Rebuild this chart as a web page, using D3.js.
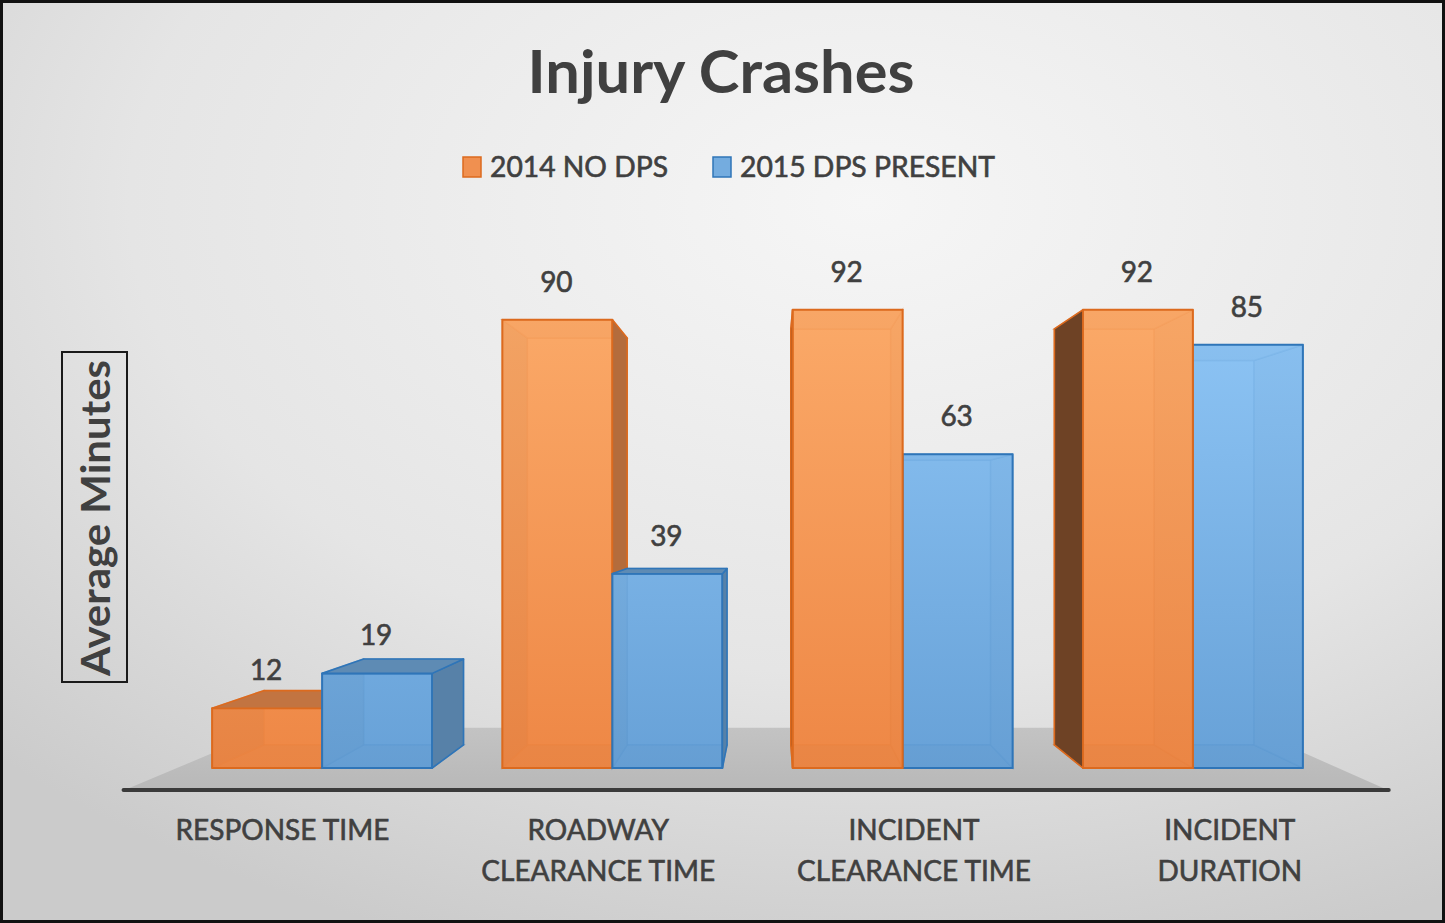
<!DOCTYPE html>
<html><head><meta charset="utf-8">
<script src="https://cdn.jsdelivr.net/npm/d3@7"></script>
<style>html,body{margin:0;padding:0;background:#fff;overflow:hidden}</style>
</head><body>
<svg id="chart" width="1445" height="923"></svg>
<script>
// ---------- data ----------
const categories = ["RESPONSE TIME", "ROADWAY CLEARANCE TIME", "INCIDENT CLEARANCE TIME", "INCIDENT DURATION"];
const categoryLines = [["RESPONSE TIME"], ["ROADWAY", "CLEARANCE TIME"], ["INCIDENT", "CLEARANCE TIME"], ["INCIDENT", "DURATION"]];
const seriesNames = ["2014 NO DPS", "2015 DPS PRESENT"];
const values2014 = [12, 90, 92, 92];
const values2015 = [19, 39, 63, 85];
const yDomain = [0, 100];
const titleText = "Injury Crashes";
const yAxisTitle = "Average Minutes";

// ---------- layout ----------
const W = 1445, H = 923;
const baseY = 768, topY = 270;             // front plane value range
const plotX0 = 177, plotX1 = 1338;          // front plane category range
const VP = {x: 773, y: 517};                // perspective vanishing point
const kBack = 0.908, kFloorFront = 1.088, kFloorBack = 0.84;
const font = "Lato, 'Open Sans', sans-serif";
const textColor = "#404040";

const svg = d3.select("#chart");
const defs = svg.append("defs");

// background
const bg = defs.append("radialGradient").attr("id", "bg").attr("cx", "60%").attr("cy", "22%").attr("r", "85%");
bg.append("stop").attr("offset", "0").attr("stop-color", "#f6f6f6");
bg.append("stop").attr("offset", "0.6").attr("stop-color", "#e5e5e5");
bg.append("stop").attr("offset", "1").attr("stop-color", "#cbcbcb");
svg.append("rect").attr("width", W).attr("height", H).attr("fill", "url(#bg)");

// series styles
const palette = [
  {id: "gOr", lo: "#ee8745", hi: "#fbaa69", base: "#f09050", edge: "#dc6a1e"},
  {id: "gBl", lo: "#67a1d7", hi: "#8fc6f6", base: "#74acdf", edge: "#2f75b8"}
];
palette.forEach(p => {
  const lg = defs.append("linearGradient").attr("id", p.id).attr("gradientUnits", "userSpaceOnUse")
    .attr("x1", 0).attr("y1", baseY).attr("x2", 0).attr("y2", 300);
  lg.append("stop").attr("offset", "0").attr("stop-color", p.lo);
  lg.append("stop").attr("offset", "1").attr("stop-color", p.hi);
});

// scales
const x = d3.scaleBand().domain(categories).range([plotX0, plotX1]).paddingInner(0.242).paddingOuter(0.121);
const xs = d3.scaleBand().domain(seriesNames).range([0, x.bandwidth()]);
const y = d3.scaleLinear().domain(yDomain).range([baseY, topY]);

const P = (px, py, f) => [VP.x + (px - VP.x) * f, VP.y + (py - VP.y) * f];
const line = d3.line();
const poly = pts => line(pts) + "Z";

// floor
const floorPts = [P(plotX0, baseY, kFloorFront), P(plotX1, baseY, kFloorFront), P(plotX1, baseY, kFloorBack), P(plotX0, baseY, kFloorBack)];
const fg = defs.append("linearGradient").attr("id", "floorG").attr("x1", 0).attr("y1", 0).attr("x2", 0).attr("y2", 1);
fg.append("stop").attr("offset", 0).attr("stop-color", "#c3c3c3");
fg.append("stop").attr("offset", 1).attr("stop-color", "#b8b8b8");
svg.append("path").attr("d", poly(floorPts)).attr("fill", "url(#floorG)");
svg.append("line").attr("x1", floorPts[0][0] - 1).attr("x2", floorPts[1][0] + 1)
  .attr("y1", floorPts[0][1]).attr("y2", floorPts[0][1])
  .attr("stroke", "#3a3a3a").attr("stroke-width", 4).attr("stroke-linecap", "round");

// bars
const barData = [];
categories.forEach((c, i) => {
  [values2014[i], values2015[i]].forEach((v, s) => {
    const x0 = x(c) + xs(seriesNames[s]);
    barData.push({c, s, v, x0, x1: x0 + xs.bandwidth()});
  });
});
barData.sort((a, b) => Math.abs((b.x0 + b.x1) / 2 - VP.x) - Math.abs((a.x0 + a.x1) / 2 - VP.x));

const gBars = svg.append("g");
barData.forEach(d => {
  const p = palette[d.s];
  const yT = y(d.v), yB = y(0);
  const ftl = [d.x0, yT], ftr = [d.x1, yT], fbr = [d.x1, yB], fbl = [d.x0, yB];
  const btl = P(d.x0, yT, kBack), btr = P(d.x1, yT, kBack), bbr = P(d.x1, yB, kBack), bbl = P(d.x0, yB, kBack);
  const faces = {
    back: [btl, btr, bbr, bbl],
    left: [ftl, btl, bbl, fbl],
    right: [ftr, btr, bbr, fbr],
    top: [ftl, ftr, btr, btl],
    bottom: [fbl, fbr, bbr, bbl]
  };
  const outward = {
    left: btl[0] < d.x0, right: btr[0] > d.x1, top: btl[1] < yT, bottom: bbl[1] > yB
  };
  const shade = {left: 2.2, right: 0.8, top: 0.6, bottom: 1.2};
  const g = gBars.append("g");
  g.append("path").attr("d", poly(faces.back)).attr("fill", `url(#${p.id})`)
    .attr("stroke", p.edge).attr("stroke-opacity", 0.45).attr("stroke-width", 1.5);
  ["bottom", "left", "right", "top"].forEach(k => {
    if (outward[k]) return;
    g.append("path").attr("d", poly(faces[k])).attr("fill", `url(#${p.id})`);
    g.append("path").attr("d", poly(faces[k])).attr("fill", d3.color(p.base).darker(shade[k]).toString())
      .attr("fill-opacity", 0.25).attr("stroke", p.edge).attr("stroke-opacity", 0.45).attr("stroke-width", 1.5);
  });
  g.append("path").attr("d", poly([ftl, ftr, fbr, fbl])).attr("fill", `url(#${p.id})`).attr("fill-opacity", 0.78)
    .attr("stroke", p.edge).attr("stroke-width", 2).attr("stroke-linejoin", "round");
  ["left", "right", "top"].forEach(k => {
    if (!outward[k]) return;
    g.append("path").attr("d", poly(faces[k])).attr("fill", d3.color(p.base).darker(shade[k]).toString())
      .attr("stroke", p.edge).attr("stroke-width", 1.6).attr("stroke-linejoin", "round");
  });
});

// helper for slightly heavier text (like the reference rendering)
const heavy = sel => sel.attr("stroke", textColor).attr("stroke-width", 0.6).attr("paint-order", "stroke");

// value labels
heavy(svg.append("g").selectAll("text").data(barData).join("text")
  .attr("x", d => (d.x0 + d.x1) / 2 - 1)
  .attr("y", d => y(d.v) - 28)
  .attr("text-anchor", "middle")
  .attr("font-family", font).attr("font-size", 28).attr("fill", textColor)
  .text(d => d.v));

// category labels (projected onto floor front edge)
const catG = svg.append("g");
categories.forEach((c, i) => {
  const cx = P(x(c) + x.bandwidth() / 2, baseY, kFloorFront)[0];
  categoryLines[i].forEach((ln, j) => {
    heavy(catG.append("text").attr("x", cx).attr("y", 840 + j * 41)
      .attr("text-anchor", "middle").attr("font-family", font).attr("font-size", 28)
      .attr("fill", textColor).text(ln));
  });
});

// title
svg.append("text").attr("x", 721).attr("y", 93).attr("text-anchor", "middle")
  .attr("font-family", font).attr("font-weight", "bold").attr("font-size", 60)
  .attr("textLength", 387).attr("lengthAdjust", "spacingAndGlyphs")
  .attr("fill", textColor).text(titleText);

// legend
const legendPos = [{sx: 463, tx: 490, w: 178}, {sx: 713, tx: 740, w: 255}];
seriesNames.forEach((n, i) => {
  const p = palette[i];
  svg.append("rect").attr("x", legendPos[i].sx).attr("y", 157).attr("width", 18).attr("height", 20)
    .attr("fill", p.base).attr("stroke", p.edge).attr("stroke-width", 1.5);
  heavy(svg.append("text").attr("x", legendPos[i].tx).attr("y", 177)
    .attr("font-family", font).attr("font-size", 28).attr("fill", textColor)
    .attr("textLength", legendPos[i].w).attr("lengthAdjust", "spacingAndGlyphs").text(n));
});

// y axis title with box
svg.append("rect").attr("x", 62).attr("y", 352).attr("width", 65).attr("height", 330)
  .attr("fill", "none").attr("stroke", "#1a1a1a").attr("stroke-width", 2);
svg.append("text").attr("transform", "translate(110,518) rotate(-90)").attr("text-anchor", "middle")
  .attr("font-family", font).attr("font-weight", "bold").attr("font-size", 41)
  .attr("textLength", 316).attr("lengthAdjust", "spacingAndGlyphs")
  .attr("fill", textColor).text(yAxisTitle);

// outer frame
svg.append("rect").attr("x", 1.5).attr("y", 1.5).attr("width", W - 3).attr("height", H - 3)
  .attr("fill", "none").attr("stroke", "#111").attr("stroke-width", 3);
</script>
</body></html>
